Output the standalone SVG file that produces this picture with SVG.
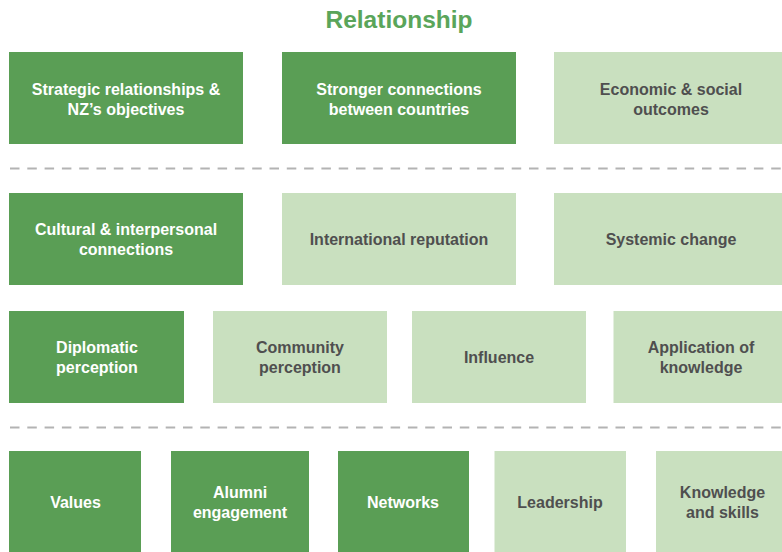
<svg xmlns="http://www.w3.org/2000/svg" width="782" height="552" viewBox="0 0 782 552">
  <style>
    .dk { fill: #5a9e55; }
    .lt { fill: #c9e0bf; }
    text { font-family: "Liberation Sans", Arial, sans-serif; font-weight: bold; font-size: 16px; text-anchor: middle; }
    .tw { fill: #ffffff; }
    .tg { fill: #4f4f4f; }
    .title { fill: #5aa55a; font-size: 24.5px; }
    .dash { stroke: #b3b3b3; stroke-width: 2; stroke-dasharray: 9.5 7.8; fill: none; }
  </style>
  <rect width="782" height="552" fill="#ffffff"/>
  <text class="title" x="399" y="28">Relationship</text>

  <g id="connectors">
    <line class="dash" x1="10" y1="168.5" x2="782" y2="168.5"/>
    <line class="dash" x1="10" y1="427.5" x2="782" y2="427.5"/>
  </g>

  <!-- Row 1 -->
  <g id="strategic">
    <rect class="dk" x="9" y="52" width="234" height="92"/>
    <text class="tw" x="126" y="95">Strategic relationships &amp;</text>
    <text class="tw" x="126" y="115">NZ’s objectives</text>
  </g>
  <g id="stronger">
    <rect class="dk" x="282" y="52" width="234" height="92"/>
    <text class="tw" x="399" y="95">Stronger connections</text>
    <text class="tw" x="399" y="115">between countries</text>
  </g>
  <g id="economic">
    <rect class="lt" x="554" y="52" width="234" height="92"/>
    <text class="tg" x="671" y="95">Economic &amp; social</text>
    <text class="tg" x="671" y="115">outcomes</text>
  </g>

  <!-- Row 2 -->
  <g id="cultural">
    <rect class="dk" x="9" y="193" width="234" height="92"/>
    <text class="tw" x="126" y="235">Cultural &amp; interpersonal</text>
    <text class="tw" x="126" y="255">connections</text>
  </g>
  <g id="reputation">
    <rect class="lt" x="282" y="193" width="234" height="92"/>
    <text class="tg" x="399" y="245">International reputation</text>
  </g>
  <g id="systemic">
    <rect class="lt" x="554" y="193" width="234" height="92"/>
    <text class="tg" x="671" y="245">Systemic change</text>
  </g>

  <!-- Row 3 -->
  <g id="diplomatic">
    <rect class="dk" x="9" y="311" width="175" height="92"/>
    <text class="tw" x="97" y="353">Diplomatic</text>
    <text class="tw" x="97" y="373">perception</text>
  </g>
  <g id="community">
    <rect class="lt" x="213" y="311" width="174" height="92"/>
    <text class="tg" x="300" y="353">Community</text>
    <text class="tg" x="300" y="373">perception</text>
  </g>
  <g id="influence">
    <rect class="lt" x="412" y="311" width="174" height="92"/>
    <text class="tg" x="499" y="363">Influence</text>
  </g>
  <g id="application">
    <rect class="lt" x="613.5" y="311" width="175" height="92"/>
    <text class="tg" x="701" y="353">Application of</text>
    <text class="tg" x="701" y="373">knowledge</text>
  </g>

  <!-- Row 4 -->
  <g id="values">
    <rect class="dk" x="9" y="451" width="132" height="105"/>
    <text class="tw" x="75.5" y="507.5">Values</text>
  </g>
  <g id="alumni">
    <rect class="dk" x="171" y="451" width="138" height="105"/>
    <text class="tw" x="240" y="497.5">Alumni</text>
    <text class="tw" x="240" y="517.5">engagement</text>
  </g>
  <g id="networks">
    <rect class="dk" x="338" y="451" width="131" height="105"/>
    <text class="tw" x="403" y="507.5">Networks</text>
  </g>
  <g id="leadership">
    <rect class="lt" x="494.5" y="451" width="131.5" height="105"/>
    <text class="tg" x="560" y="507.5">Leadership</text>
  </g>
  <g id="knowledge">
    <rect class="lt" x="656" y="451" width="133" height="105"/>
    <text class="tg" x="722.5" y="497.5">Knowledge</text>
    <text class="tg" x="722.5" y="517.5">and skills</text>
  </g>
</svg>
